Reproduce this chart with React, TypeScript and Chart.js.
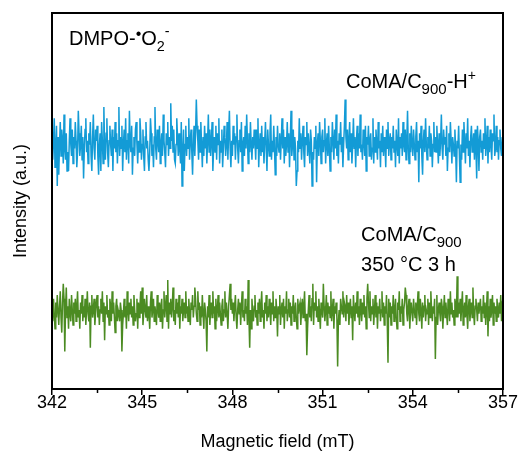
import { useEffect, useRef } from "react";
import { Chart, registerables } from "chart.js";

Chart.register(...registerables);

const fieldStart = 342;
const fieldEnd = 357;
const majorTicks = [342, 345, 348, 351, 354, 357];
const minorTicks = [343.5, 346.5, 349.5, 352.5, 355.5];

const blueSeries = [
  68,61,66,72,59,64,70,54,67,57,65,71,62,69,66,60,73,64,61,68,58,63,58,66,72,65,62,69,60,67,
  64,71,66,59,63,74,68,62,65,70,61,67,56,64,69,72,63,66,60,68,65,71,62,58,67,73,64,61,69,66,
  70,62,57,65,68,58,71,66,60,75,64,61,68,72,63,59,66,70,65,62,69,58,67,64,71,63,68,60,66,75,
  62,67,64,70,58,65,69,63,72,61,66,68,60,74,65,63,70,57,64,67,62,69,71,65,60,66,63,72,68,61,
  65,69,62,58,67,71,64,66,61,58,63,72,68,62,65,59,67,75,64,61,69,66,63,70,60,65,68,62,73,66,
  63,59,68,65,71,62,67,64,76,66,70,63,69,61,60,65,72,67,62,68,64,60,71,54,63,69,58,65,70,62,
  67,64,72,61,66,69,63,57,65,70,62,68,77,70,66,61,69,63,71,65,59,67,62,70,64,68,60,66,73,63,
  69,62,66,71,58,64,67,63,70,61,68,65,72,60,66,63,69,59,64,70,67,62,65,71,61,68,74,64,59,66,
  62,70,65,68,61,67,73,64,60,66,69,63,71,58,65,67,62,70,64,73,66,60,68,63,71,65,61,67,64,69,
  66,61,69,64,72,59,65,68,62,70,63,67,60,66,71,64,58,69,65,62,68,73,61,66,63,70,64,57,67,62,
  70,65,63,68,61,66,72,64,69,60,67,62,65,71,63,68,59,66,74,62,65,69,61,67,64,54,58,66,63,72,
  64,68,61,66,70,63,59,67,65,71,62,68,64,60,69,66,54,63,61,67,64,70,55,65,68,62,71,66,60,67,
  69,63,66,72,60,65,68,62,70,64,58,67,63,71,66,61,69,64,73,62,66,60,68,65,71,63,67,59,65,70,
  77,67,64,69,61,66,71,63,68,60,65,72,64,67,59,66,70,62,68,64,73,63,65,61,69,66,62,70,58,67,
  65,70,62,66,68,61,64,72,60,67,63,69,65,61,71,64,66,59,68,63,70,62,67,65,59,69,64,71,62,66,
  68,61,67,64,70,63,66,59,69,65,62,72,60,67,64,68,62,71,65,63,69,61,66,74,64,60,68,63,70,65,
  62,69,65,61,67,71,63,66,55,68,64,70,62,57,66,69,63,72,65,61,67,64,70,62,68,66,59,65,71,63,
  67,63,70,65,60,68,62,66,73,64,61,69,65,67,62,70,58,64,68,63,71,66,60,67,65,62,69,64,55,66,
  64,70,62,55,65,61,69,63,71,66,60,68,64,72,62,66,59,67,70,63,65,68,61,69,64,56,70,66,58,67,
  69,63,66,61,68,64,72,62,65,70,60,67,63,69,65,61,68,66,73,62,64,70,63,67,61,66,69,64,62,67,
  65,
];

const greenSeries = [
  22,18,24,20,16,23,19,25,21,17,22,26,19,15,23,28,24,10,21,27,19,22,16,24,20,18,25,21,17,23,
  20,24,18,22,26,19,21,16,23,20,25,18,22,19,24,17,21,26,20,18,23,11,22,25,19,21,24,17,20,23,
  25,19,22,17,21,24,20,26,18,23,13,22,20,25,19,21,17,24,22,18,26,20,23,19,15,22,24,18,21,20,
  18,23,21,10,17,20,24,19,22,16,26,21,18,23,20,24,19,22,17,25,21,18,20,24,16,23,19,22,26,20,
  27,17,20,24,21,19,25,18,22,20,16,23,26,19,21,24,18,22,20,17,25,21,19,23,18,22,24,16,21,26,
  19,22,25,18,29,16,23,20,24,19,22,27,18,21,17,24,20,23,19,25,16,22,20,24,18,21,23,19,26,20,
  22,18,24,20,17,23,21,25,19,22,27,24,20,18,26,21,23,17,22,19,25,20,16,23,21,18,10,22,19,25,
  17,21,23,19,26,20,22,16,24,18,21,25,19,23,20,17,22,24,18,21,26,19,23,20,16,22,25,28,21,24,
  20,23,18,22,25,19,16,21,24,20,23,17,22,26,19,21,18,24,20,22,17,29,19,11,21,16,24,20,18,22,
  25,19,21,17,23,20,24,18,22,26,19,21,16,23,20,25,18,22,19,24,21,17,23,20,26,18,22,19,24,21,
  14,22,20,25,17,21,23,19,24,16,22,20,26,18,21,24,19,23,17,22,20,25,18,21,23,19,16,24,20,22,
  23,17,21,24,19,22,26,18,20,9,16,21,25,19,22,18,24,28,17,23,21,26,19,22,18,24,20,16,23,21,
  19,28,22,18,21,25,17,23,20,22,19,26,18,21,24,16,22,20,23,19,6,18,21,17,24,22,20,26,19,23,
  22,18,25,20,23,17,21,24,19,22,13,25,21,18,23,20,26,19,22,17,24,21,18,23,20,25,19,22,16,24,
  28,23,19,26,18,22,20,24,17,21,25,19,23,16,22,20,24,18,21,26,19,23,17,22,20,25,18,7,24,19,
  23,17,22,20,25,18,21,24,19,16,23,21,26,18,22,20,24,17,21,23,27,25,20,18,22,24,16,21,23,20,
  18,24,21,19,23,17,22,26,20,18,24,21,16,23,19,22,25,18,21,20,24,17,23,19,26,21,18,22,20,24,
  8,19,25,17,21,23,20,18,24,22,16,21,25,19,23,20,17,24,22,18,26,20,23,19,21,17,24,22,19,30,
  19,23,20,24,18,22,26,17,21,23,19,25,20,16,22,24,18,21,23,19,27,20,17,22,24,21,18,23,20,22,
  24,18,22,20,25,19,23,17,21,26,14,22,18,24,19,21,25,17,23,20,22,18,24,21,19,23,20,25,18,22,
  21,
];

const seriesNames = ["CoMA/C900-H+", "CoMA/C900 350 °C 3 h"];

type Seg = { t: string; s: number; dy: number };
type Note = { x: number; y: number; segs: Seg[] };

const notes: Note[] = [
  {
    x: 342.565,
    y: 91.5,
    segs: [
      { t: "DMPO-", s: 1, dy: 0 },
      { t: "•", s: 0.8, dy: -6 },
      { t: "O", s: 1, dy: 0 },
      { t: "2", s: 0.72, dy: 6 },
      { t: "-", s: 0.72, dy: -9 },
    ],
  },
  {
    x: 351.78,
    y: 80.05,
    segs: [
      { t: "CoMA/C", s: 1, dy: 0 },
      { t: "900", s: 0.75, dy: 6 },
      { t: "-H", s: 1, dy: 0 },
      { t: "+", s: 0.7, dy: -8 },
    ],
  },
  {
    x: 352.28,
    y: 39.4,
    segs: [
      { t: "CoMA/C", s: 1, dy: 0 },
      { t: "900", s: 0.75, dy: 6 },
    ],
  },
  {
    x: 352.28,
    y: 31.4,
    segs: [{ t: "350 °C 3 h", s: 1, dy: 0 }],
  },
];

const FONT = "'Liberation Sans', Arial, sans-serif";

function toPoints(values: number[]) {
  const n = values.length;
  const step = (fieldEnd - fieldStart) / (n - 1);
  return values.map((v, i) => ({ x: fieldStart + i * step, y: v }));
}

const framePlugin = {
  id: "frameAndNotes",
  afterDraw(chart: any) {
    const { ctx, chartArea } = chart;
    const xs = chart.scales.x;
    const ys = chart.scales.y;
    ctx.save();
    ctx.strokeStyle = "#000";
    ctx.lineWidth = 2;
    ctx.strokeRect(
      chartArea.left,
      chartArea.top,
      chartArea.right - chartArea.left,
      chartArea.bottom - chartArea.top
    );
    ctx.lineWidth = 1.5;
    for (const v of minorTicks) {
      const px = Math.round(xs.getPixelForValue(v)) + 0.5;
      ctx.beginPath();
      ctx.moveTo(px, chartArea.bottom);
      ctx.lineTo(px, chartArea.bottom + 4);
      ctx.stroke();
    }
    ctx.fillStyle = "#000";
    ctx.textBaseline = "alphabetic";
    ctx.textAlign = "left";
    const base = 20;
    for (const note of notes) {
      let px = xs.getPixelForValue(note.x);
      const py = ys.getPixelForValue(note.y);
      for (const seg of note.segs) {
        ctx.font = `${base * seg.s}px ${FONT}`;
        ctx.fillText(seg.t, px, py + seg.dy);
        px += ctx.measureText(seg.t).width;
      }
    }
    ctx.restore();
  },
};

export default function App() {
  const ref = useRef<HTMLCanvasElement | null>(null);

  useEffect(() => {
    document.body.style.margin = "0";
    const canvas = ref.current;
    if (!canvas) return;
    const chart = new Chart(canvas, {
      type: "line",
      data: {
        datasets: [
          {
            label: seriesNames[0],
            data: toPoints(blueSeries),
            borderColor: "#139bd6",
            borderWidth: 1.5,
            pointRadius: 0,
            tension: 0,
          },
          {
            label: seriesNames[1],
            data: toPoints(greenSeries),
            borderColor: "#4b8b22",
            borderWidth: 1.5,
            pointRadius: 0,
            tension: 0,
          },
        ],
      },
      options: {
        animation: false,
        responsive: false,
        devicePixelRatio: 1,
        layout: { padding: { left: 0, right: 18, top: 13, bottom: 0 } },
        plugins: {
          legend: { display: false },
          tooltip: { enabled: false },
        },
        scales: {
          x: {
            type: "linear",
            min: fieldStart,
            max: fieldEnd,
            afterBuildTicks: (s: any) => {
              s.ticks = majorTicks.map((v) => ({ value: v }));
            },
            afterFit: (s: any) => {
              s.height = 65;
            },
            ticks: {
              autoSkip: false,
              maxRotation: 0,
              color: "#000",
              padding: -3,
              font: { family: FONT, size: 18 },
            },
            grid: {
              drawOnChartArea: false,
              drawTicks: true,
              tickLength: 6,
              color: "#000",
              lineWidth: 1.5,
            },
            border: { display: false },
            title: {
              display: true,
              text: "Magnetic field (mT)",
              color: "#000",
              font: { family: FONT, size: 18 },
              padding: { top: 4, bottom: 1 },
            },
          },
          y: {
            min: 0,
            max: 100,
            afterFit: (s: any) => {
              s.width = 52;
            },
            ticks: { display: false },
            grid: { display: false },
            border: { display: false },
            title: {
              display: true,
              text: "Intensity (a.u.)",
              color: "#000",
              font: { family: FONT, size: 18 },
              padding: { top: 10, bottom: 0 },
            },
          },
        },
      },
      plugins: [framePlugin],
    } as any);
    return () => chart.destroy();
  }, []);

  return (
    <div style={{ width: 521, height: 454, background: "#fff" }}>
      <canvas ref={ref} width={521} height={454} style={{ display: "block" }} />
    </div>
  );
}
